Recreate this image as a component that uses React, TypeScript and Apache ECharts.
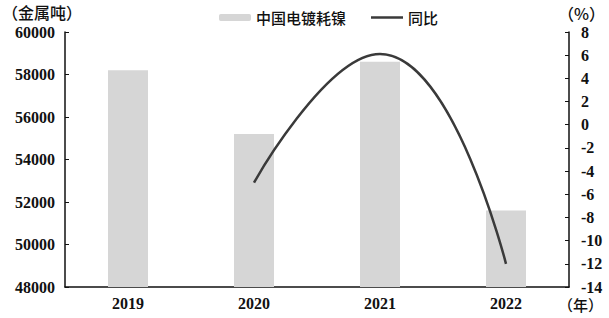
import React, { useEffect, useRef } from "react";
import * as echarts from "echarts";

const categories = ["2019", "2020", "2021", "2022"];
const nickelUse = [58200, 55200, 58600, 51600];
const yoy: (number | null)[] = [null, -5, 6.1, -12];
const leftTicks = { min: 48000, max: 60000, interval: 2000 };
const rightTicks = { min: -14, max: 8, interval: 2 };

const serif = "Times New Roman, Liberation Serif, serif";
const cjk = "Noto Sans CJK SC, sans-serif";

export default function App() {
  const ref = useRef<HTMLDivElement>(null);
  useEffect(() => {
    if (!ref.current) return;
    const chart = echarts.init(ref.current, null, { renderer: "svg" });
    const labelStyle = { fontFamily: serif, fontSize: 16, fontWeight: "bold", color: "#111" };
    chart.setOption({
      animation: false,
      backgroundColor: "#fff",
      grid: { left: 65, right: 40, top: 32, bottom: 31 },
      legend: [
        {
          data: ["中国电镀耗镍"],
          left: 214,
          top: 5,
          itemWidth: 32,
          itemHeight: 7,
          itemGap: 6,
          textStyle: { fontFamily: cjk, fontSize: 15, color: "#111", fontWeight: 500 },
        },
        {
          data: [{ name: "同比", icon: "path://M0,0h32v2.5h-32z" }],
          left: 366,
          top: 5,
          itemWidth: 32,
          itemHeight: 2.5,
          textStyle: { fontFamily: cjk, fontSize: 15, color: "#111", fontWeight: 500 },
        },
      ],
      graphic: [
        { type: "text", left: 2, top: 4, style: { text: "（金属吨）", font: `500 16px ${cjk}`, fill: "#111" } },
        { type: "text", left: 558, top: 5, style: { text: "（%）", font: `500 16px ${cjk}`, fill: "#111" } },
        { type: "text", left: 558, top: 297, style: { text: "（年）", font: `500 15px ${cjk}`, fill: "#111" } },
      ],
      xAxis: {
        type: "category",
        data: categories,
        axisLine: { onZero: false, lineStyle: { color: "#111", width: 1.5 } },
        axisTick: { inside: true, length: 5, lineStyle: { color: "#111" } },
        axisLabel: { ...labelStyle, margin: 8 },
      },
      yAxis: [
        {
          type: "value",
          ...leftTicks,
          axisLine: { show: true, lineStyle: { color: "#111", width: 1.5 } },
          axisTick: { show: true, inside: true, length: 4, lineStyle: { color: "#111" } },
          splitLine: { show: false },
          axisLabel: { ...labelStyle, margin: 10, formatter: (v: number) => String(v) },
        },
        {
          type: "value",
          ...rightTicks,
          position: "right",
          axisLine: { show: true, lineStyle: { color: "#111", width: 1.5 } },
          axisTick: { show: true, inside: true, length: 4, lineStyle: { color: "#111" } },
          splitLine: { show: false },
          axisLabel: { ...labelStyle, margin: 12 },
        },
      ],
      series: [
        {
          name: "中国电镀耗镍",
          type: "bar",
          data: nickelUse,
          barWidth: 40,
          itemStyle: { color: "#d6d6d6" },
        },
        {
          name: "同比",
          type: "line",
          yAxisIndex: 1,
          data: yoy,
          smooth: true,
          symbol: "none",
          lineStyle: { color: "#3a3a3a", width: 2.5 },
          itemStyle: { color: "#3a3a3a" },
        },
      ],
    });
    return () => chart.dispose();
  }, []);
  return <div ref={ref} style={{ width: 609, height: 318, position: "absolute", left: 0, top: 0 }} />;
}
